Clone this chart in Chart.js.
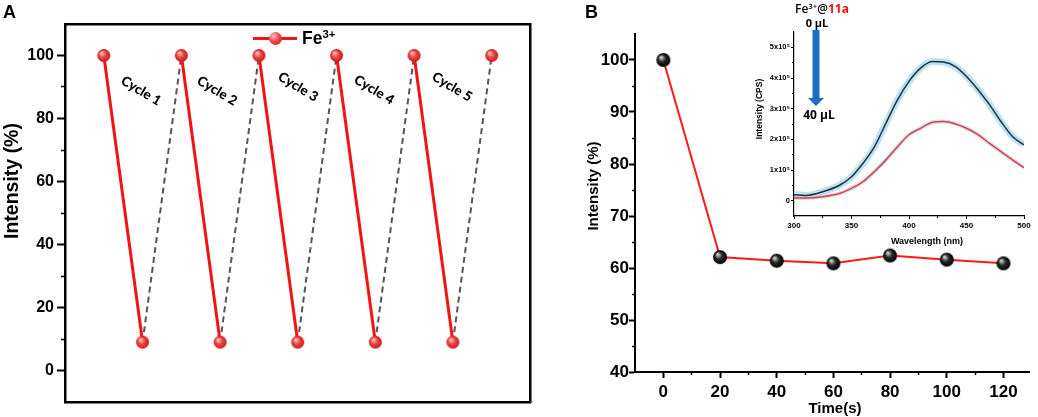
<!DOCTYPE html>
<html>
<head>
<meta charset="utf-8">
<script src="https://cdn.jsdelivr.net/npm/chart.js@4.4.0/dist/chart.umd.min.js"></script>
<style>
  body { margin: 0; width: 1038px; height: 417px; background: #fff; position: relative; overflow: hidden;
         font-family: "Liberation Sans", Arial, sans-serif; }
  canvas { position: absolute; }
  .t { position: absolute; white-space: nowrap; font-weight: bold; color: #000; line-height: 1; }
  .c { transform: translate(-50%, -50%); }
  .rot { transform: translate(-50%, -50%) rotate(-90deg); }
  .cyc { font-family: Lato, "Open Sans", sans-serif; font-size: 13.5px; font-weight: 900; transform: translate(-50%, -50%) rotate(31deg); }
  sup { font-size: 0.65em; vertical-align: 0.55em; line-height: 0; }
</style>
</head>
<body>
<canvas id="chartA" width="540" height="417" style="left:0;top:0"></canvas>
<canvas id="chartB" width="498" height="417" style="left:540px;top:0"></canvas>
<canvas id="inset" width="308" height="225" style="left:730px;top:25px"></canvas>

<!-- panel letters and titles -->
<div class="t" style="left:3px;top:3px;font-size:18px">A</div>
<div class="t" style="left:585px;top:3px;font-size:18px">B</div>
<div class="t rot" style="left:12px;top:181px;font-size:19.5px">Intensity (%)</div>
<div class="t rot" style="left:592px;top:186px;font-size:15px">Intensity (%)</div>
<div class="t c" style="left:835px;top:407px;font-size:15px">Time(s)</div>
<div class="t rot" style="left:759px;top:109px;font-size:8.5px">Intensity (CPS)</div>
<div class="t c" style="left:927px;top:241px;font-size:9px">Wavelength (nm)</div>

<!-- legend of panel A -->
<div style="position:absolute;left:253px;top:37px;width:44px;height:3px;background:#f01515"></div>
<div style="position:absolute;left:269px;top:32px;width:13px;height:13px;border-radius:50%;
            background:radial-gradient(circle at 35% 30%, #ffc4c4 0%, #f24848 45%, #c81818 100%)"></div>
<div class="t" style="left:302px;top:30px;font-size:17.5px">Fe<sup>3+</sup></div>

<div id="cycles"></div>

<!-- inset annotations -->
<div class="t c" style="left:822px;top:9px;font-size:12px;font-family:'Open Sans',sans-serif;font-weight:600">Fe<sup>3+</sup>@<span style="color:#f01010;font-weight:bold">11a</span></div>
<div class="t c" style="left:817px;top:22px;font-size:11px;font-family:'Open Sans',sans-serif">0 μL</div>
<div class="t c" style="left:819px;top:115px;font-size:12px;font-family:'Open Sans',sans-serif">40 μL</div>
<svg style="position:absolute;left:806px;top:29px" width="20" height="80">
  <rect x="6.5" y="1" width="7" height="70" fill="#1b6ec2"/>
  <polygon points="2,69 18,69 10,77" fill="#1b6ec2"/>
</svg>

<script>
// panel A: recycling
const cycleIndex = [0, 1, 2, 3, 4, 5, 6, 7, 8, 9, 10];
const cycleValues = [100, 9, 100, 9, 100, 9, 100, 9, 100, 9, 100];
const cycleNames = ["Cycle 1", "Cycle 2", "Cycle 3", "Cycle 4", "Cycle 5"];
const yTicksA = [0, 20, 40, 60, 80, 100];
const yMinorA = [10, 30, 50, 70, 90];

// panel B: time response
const timeS = [0, 20, 40, 60, 80, 100, 120];
const intensityB = [100, 62.1, 61.4, 60.9, 62.4, 61.6, 60.9];
const xTicksB = [0, 20, 40, 60, 80, 100, 120];
const xMinorB = [10, 30, 50, 70, 90, 110];
const yTicksB = [40, 50, 60, 70, 80, 90, 100];
const yMinorB = [45, 55, 65, 75, 85, 95];

// inset: emission spectra
const wavelength = [300, 310, 325, 340, 350, 360, 370, 380, 390, 400, 410, 420, 430, 440, 450, 460, 470, 480, 490, 500];
const spec0uL = [0.19, 0.17, 0.29, 0.51, 0.78, 1.22, 1.76, 2.53, 3.29, 3.89, 4.32, 4.54, 4.52, 4.38, 4.05, 3.62, 3.13, 2.58, 2.09, 1.82];
const spec40uL = [0.09, 0.09, 0.13, 0.24, 0.40, 0.62, 0.95, 1.33, 1.76, 2.15, 2.36, 2.55, 2.58, 2.51, 2.36, 2.15, 1.87, 1.60, 1.33, 1.08];
const xTicksIn = [300, 350, 400, 450, 500];
const xMinorIn = [325, 375, 425, 475];
const yTicksIn = [0, 1e5, 2e5, 3e5, 4e5, 5e5];
const yMinorIn = [0.5e5, 1.5e5, 2.5e5, 3.5e5, 4.5e5];

const FAM = '"Liberation Sans", Arial, sans-serif';

// cycle labels (text overlay)
const cyclePos = [[141, 91], [217, 91], [298, 87], [374, 90], [452, 87]];
document.getElementById("cycles").innerHTML = cycleNames.map((n, i) =>
    `<div class="t cyc" style="left:${cyclePos[i][0]}px;top:${cyclePos[i][1]}px">${n}</div>`).join("");

// shiny ball markers
function sphere(r, hi, mid, edge) {
    const c = document.createElement("canvas");
    c.width = c.height = 2 * r + 2;
    const g = c.getContext("2d");
    const m = r + 1;
    const grad = g.createRadialGradient(m - r * 0.35, m - r * 0.4, r * 0.1, m, m, r);
    grad.addColorStop(0, hi);
    grad.addColorStop(0.45, mid);
    grad.addColorStop(1, edge);
    g.fillStyle = grad;
    g.beginPath();
    g.arc(m, m, r, 0, Math.PI * 2);
    g.fill();
    return c;
}
const redBall = sphere(6.5, "#ffc4c4", "#f24848", "#c81818");
const blackBall = sphere(7, "#d0d0d0", "#2a2a2a", "#000");

const fixedTicks = list => s => { s.ticks = list.map(v => ({ value: v })); };
const tickFont = (size) => ({ family: FAM, size: size, weight: "bold" });

const base = {
    responsive: false,
    animation: false,
    events: [],
    plugins: { legend: { display: false }, tooltip: { enabled: false } },
};

// ---------- A ----------
new Chart(document.getElementById("chartA"), {
    type: "line",
    data: {
        datasets: [{
            data: cycleIndex.map((x, i) => ({ x: x, y: cycleValues[i] })),
            borderColor: "#f01515",
            borderWidth: 3,
            pointStyle: redBall,
            pointRadius: 6.5,
            clip: false,
            segment: {
                borderColor: c => c.p0DataIndex % 2 === 0 ? "#f01515" : "#555",
                borderDash: c => c.p0DataIndex % 2 === 0 ? [] : [6, 4],
                borderWidth: c => c.p0DataIndex % 2 === 0 ? 3 : 2,
            },
        }]
    },
    options: {
        ...base,
        layout: { padding: { top: 24, right: 7, left: 0, bottom: 0 } },
        scales: {
            x: {
                type: "linear", min: -1, max: 11,
                afterFit: s => { s.height = 15; },
                ticks: { display: false },
                grid: { display: false },
                border: { color: "#000", width: 2.5 },
            },
            xTop: {
                type: "linear", position: "top", min: -1, max: 11,
                afterFit: s => { s.height = 0; },
                ticks: { display: false },
                grid: { display: false },
                border: { color: "#000", width: 2.5 },
            },
            y: {
                min: -10, max: 110, weight: 1,
                afterBuildTicks: fixedTicks(yTicksA),
                afterFit: s => { s.width = 65; },
                ticks: { color: "#000", font: tickFont(16), padding: 3 },
                grid: { drawOnChartArea: false, tickLength: 8, tickWidth: 2, tickColor: "#000" },
                border: { color: "#000", width: 2.5 },
            },
            yMinor: {
                position: "left", min: -10, max: 110, weight: 0,
                afterBuildTicks: fixedTicks(yMinorA),
                afterFit: s => { s.width = 0; },
                ticks: { display: false },
                grid: { drawOnChartArea: false, tickLength: 4, tickWidth: 1.5, tickColor: "#000" },
                border: { display: false },
            },
            yRight: {
                position: "right", min: -10, max: 110,
                afterFit: s => { s.width = 0; },
                ticks: { display: false },
                grid: { display: false },
                border: { color: "#000", width: 2.5 },
            },
        }
    }
});

// ---------- B ----------
new Chart(document.getElementById("chartB"), {
    type: "line",
    data: {
        datasets: [{
            data: timeS.map((x, i) => ({ x: x, y: intensityB[i] })),
            borderColor: "#ff1a1a",
            borderWidth: 2,
            pointStyle: blackBall,
            pointRadius: 7,
            clip: false,
        }]
    },
    options: {
        ...base,
        layout: { padding: { top: 34, right: 5, left: 0, bottom: 0 } },
        scales: {
            x: {
                type: "linear", min: -10, max: 129, weight: 1,
                afterBuildTicks: fixedTicks(xTicksB),
                afterFit: s => { s.height = 45; },
                ticks: { color: "#000", font: tickFont(17), padding: 4, autoSkip: false, maxRotation: 0 },
                grid: { drawOnChartArea: false, tickLength: 6, tickWidth: 2, tickColor: "#000" },
                border: { color: "#000", width: 2 },
            },
            xMinor: {
                type: "linear", position: "bottom", min: -10, max: 129, weight: 0,
                afterBuildTicks: fixedTicks(xMinorB),
                afterFit: s => { s.height = 0; },
                ticks: { display: false },
                grid: { drawOnChartArea: false, tickLength: 3, tickWidth: 1.5, tickColor: "#000" },
                border: { display: false },
            },
            y: {
                min: 40, max: 105, weight: 1,
                afterBuildTicks: fixedTicks(yTicksB),
                afterFit: s => { s.width = 95; },
                ticks: { color: "#000", font: tickFont(17), padding: 0 },
                grid: { drawOnChartArea: false, tickLength: 6, tickWidth: 2, tickColor: "#000" },
                border: { color: "#000", width: 2 },
            },
            yMinor: {
                position: "left", min: 40, max: 105, weight: 0,
                afterBuildTicks: fixedTicks(yMinorB),
                afterFit: s => { s.width = 0; },
                ticks: { display: false },
                grid: { drawOnChartArea: false, tickLength: 3, tickWidth: 1.5, tickColor: "#000" },
                border: { display: false },
            },
        }
    }
});

// ---------- inset ----------
const toPts = arr => wavelength.map((w, i) => ({ x: w, y: arr[i] * 1e5 }));
const curve = { pointRadius: 0, tension: 0.4, cubicInterpolationMode: "monotone", fill: false };
new Chart(document.getElementById("inset"), {
    type: "line",
    data: {
        datasets: [
            { ...curve, data: toPts(spec0uL), borderColor: "rgba(135,210,242,0.6)", borderWidth: 7, order: 3 },
            { ...curve, data: toPts(spec40uL), borderColor: "rgba(135,210,242,0.55)", borderWidth: 4, order: 3 },
            { ...curve, data: toPts(spec0uL), borderColor: "#2d2d2d", borderWidth: 1.5, order: 1 },
            { ...curve, data: toPts(spec40uL), borderColor: "#ff3535", borderWidth: 1.5, order: 1 },
        ]
    },
    options: {
        ...base,
        layout: { padding: { top: 7, right: 14, left: 0, bottom: 0 } },
        scales: {
            x: {
                type: "linear", min: 300, max: 500, weight: 1,
                afterBuildTicks: fixedTicks(xTicksIn),
                afterFit: s => { s.height = 34; },
                ticks: { color: "#000", font: tickFont(8), padding: 2, autoSkip: false, maxRotation: 0 },
                grid: { drawOnChartArea: false, tickLength: 3, tickWidth: 1, tickColor: "#000" },
                border: { color: "#000", width: 1.2 },
            },
            xMinor: {
                type: "linear", position: "bottom", min: 300, max: 500, weight: 0,
                afterBuildTicks: fixedTicks(xMinorIn),
                afterFit: s => { s.height = 0; },
                ticks: { display: false },
                grid: { drawOnChartArea: false, tickLength: 2, tickWidth: 1, tickColor: "#000" },
                border: { display: false },
            },
            y: {
                min: -0.5e5, max: 5.5e5, weight: 1,
                afterBuildTicks: fixedTicks(yTicksIn),
                afterFit: s => { s.width = 64; },
                ticks: {
                    color: "#000", font: tickFont(7.5), padding: 1,
                    callback: v => v === 0 ? "0" : (v / 1e5) + "x10\u2075",
                },
                grid: { drawOnChartArea: false, tickLength: 3, tickWidth: 1, tickColor: "#000" },
                border: { color: "#000", width: 1.2 },
            },
            yMinor: {
                position: "left", min: -0.5e5, max: 5.5e5, weight: 0,
                afterBuildTicks: fixedTicks(yMinorIn),
                afterFit: s => { s.width = 0; },
                ticks: { display: false },
                grid: { drawOnChartArea: false, tickLength: 2, tickWidth: 1, tickColor: "#000" },
                border: { display: false },
            },
        }
    }
});
</script>
</body>
</html>
